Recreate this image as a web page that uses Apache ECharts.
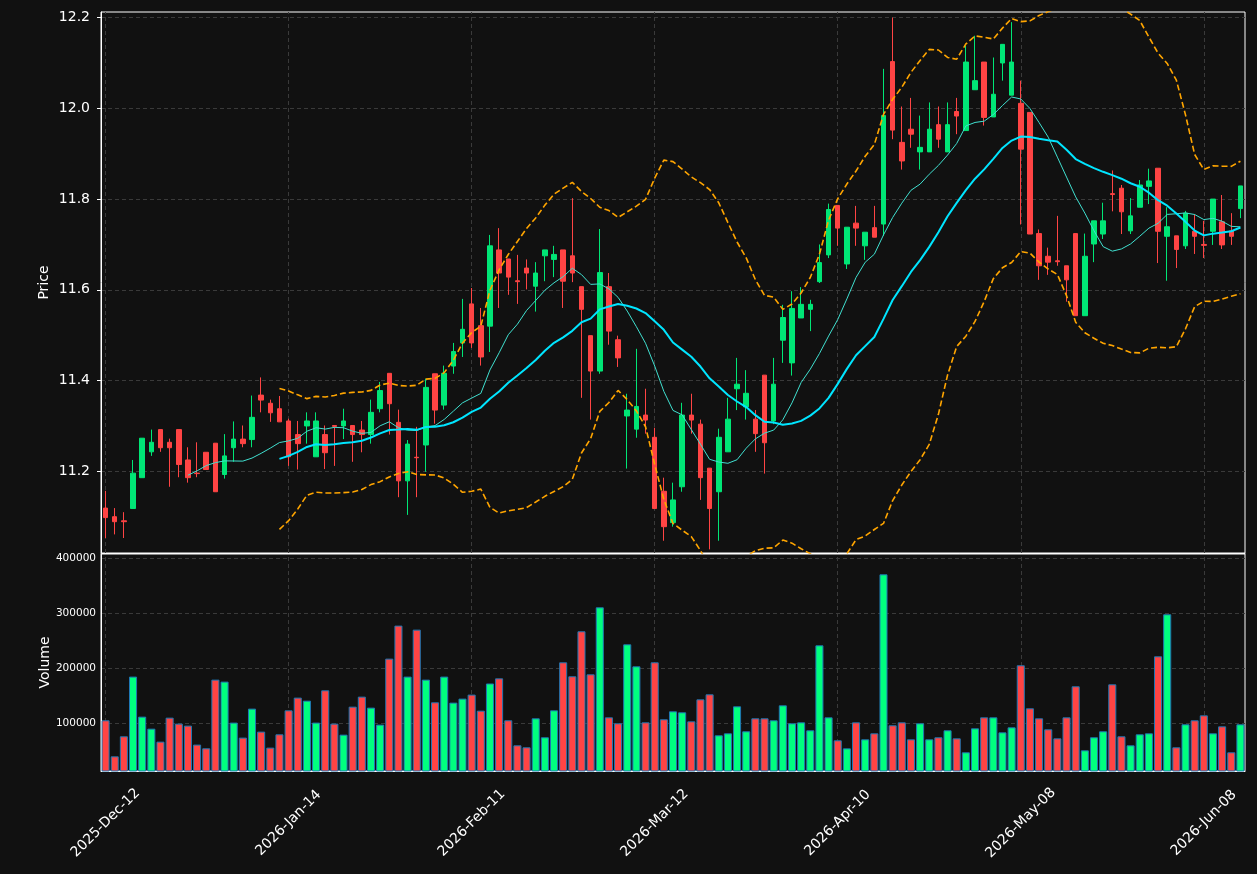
<!DOCTYPE html>
<html>
<head>
<meta charset="utf-8">
<script src="https://cdn.jsdelivr.net/npm/echarts@6/dist/echarts.min.js"></script>
<style>
html, body { margin: 0; padding: 0; background: #111111; }
#main { width: 1257px; height: 874px; }
</style>
</head>
<body>
<div id="main"></div>
<script>
// trading calendar used for the category axis
var startDate = '2025-12-12';
var holidays = ['2025-12-25', '2025-12-26', '2026-01-01', '2026-02-16', '2026-04-03', '2026-05-25'];
var monthNames = ['Jan', 'Feb', 'Mar', 'Apr', 'May', 'Jun', 'Jul', 'Aug', 'Sep', 'Oct', 'Nov', 'Dec'];

// OHLC
var opens = [
    11.119, 11.100, 11.091, 11.118, 11.186, 11.243, 11.292, 11.264, 11.292, 11.225,
    11.196, 11.242, 11.262, 11.193, 11.252, 11.271, 11.270, 11.368, 11.350, 11.338,
    11.311, 11.281, 11.300, 11.232, 11.281, 11.301, 11.300, 11.301, 11.291, 11.281,
    11.338, 11.416, 11.308, 11.179, 11.231, 11.258, 11.415, 11.346, 11.432, 11.483,
    11.569, 11.521, 11.520, 11.688, 11.668, 11.620, 11.648, 11.608, 11.675, 11.667,
    11.688, 11.675, 11.607, 11.499, 11.421, 11.607, 11.490, 11.322, 11.293, 11.324,
    11.275, 11.156, 11.087, 11.166, 11.324, 11.304, 11.207, 11.155, 11.243, 11.382,
    11.342, 11.315, 11.412, 11.311, 11.489, 11.439, 11.538, 11.557, 11.618, 11.677,
    11.786, 11.657, 11.747, 11.697, 11.737, 11.745, 12.103, 11.925, 11.954, 11.904,
    11.904, 11.964, 11.904, 11.993, 11.951, 12.041, 12.102, 11.981, 12.100, 12.029,
    12.011, 11.991, 11.724, 11.674, 11.664, 11.653, 11.724, 11.543, 11.701, 11.723,
    11.812, 11.824, 11.730, 11.782, 11.828, 11.868, 11.718, 11.719, 11.697, 11.729,
    11.700, 11.729, 11.750, 11.730, 11.779
];
var closes = [
    11.098, 11.089, 11.089, 11.196, 11.273, 11.264, 11.252, 11.252, 11.215, 11.186,
    11.195, 11.204, 11.155, 11.234, 11.271, 11.261, 11.319, 11.357, 11.329, 11.309,
    11.232, 11.261, 11.311, 11.311, 11.241, 11.299, 11.311, 11.281, 11.281, 11.330,
    11.378, 11.349, 11.179, 11.260, 11.230, 11.385, 11.335, 11.416, 11.464, 11.513,
    11.483, 11.452, 11.697, 11.637, 11.628, 11.618, 11.637, 11.637, 11.688, 11.678,
    11.619, 11.637, 11.557, 11.421, 11.638, 11.509, 11.450, 11.335, 11.343, 11.313,
    11.118, 11.078, 11.137, 11.324, 11.313, 11.186, 11.118, 11.275, 11.315, 11.392,
    11.372, 11.283, 11.263, 11.392, 11.539, 11.559, 11.568, 11.568, 11.660, 11.777,
    11.736, 11.738, 11.736, 11.727, 11.716, 11.984, 11.952, 11.884, 11.943, 11.914,
    11.954, 11.932, 11.964, 11.983, 12.102, 12.061, 11.980, 12.031, 12.141, 12.102,
    11.910, 11.723, 11.653, 11.661, 11.662, 11.622, 11.543, 11.674, 11.752, 11.752,
    11.810, 11.772, 11.763, 11.831, 11.840, 11.729, 11.739, 11.689, 11.769, 11.718,
    11.698, 11.800, 11.699, 11.718, 11.829
];
var lows = [
    11.053, 11.061, 11.053, 11.118, 11.186, 11.234, 11.243, 11.166, 11.187, 11.175,
    11.187, 11.204, 11.155, 11.184, 11.221, 11.253, 11.253, 11.330, 11.309, 11.309,
    11.212, 11.204, 11.261, 11.232, 11.205, 11.212, 11.271, 11.221, 11.242, 11.261,
    11.330, 11.281, 11.143, 11.104, 11.143, 11.199, 11.305, 11.336, 11.415, 11.452,
    11.472, 11.433, 11.463, 11.560, 11.589, 11.569, 11.601, 11.552, 11.619, 11.628,
    11.560, 11.617, 11.362, 11.314, 11.415, 11.479, 11.430, 11.206, 11.274, 11.283,
    11.118, 11.047, 11.078, 11.155, 11.283, 11.137, 11.028, 11.047, 11.243, 11.335,
    11.314, 11.243, 11.195, 11.304, 11.439, 11.411, 11.538, 11.509, 11.615, 11.670,
    11.697, 11.646, 11.697, 11.666, 11.716, 11.719, 11.932, 11.865, 11.913, 11.865,
    11.904, 11.913, 11.904, 11.943, 11.951, 12.041, 11.962, 11.981, 12.061, 12.029,
    11.744, 11.723, 11.622, 11.633, 11.653, 11.574, 11.543, 11.543, 11.661, 11.712,
    11.773, 11.723, 11.723, 11.782, 11.789, 11.659, 11.620, 11.648, 11.690, 11.679,
    11.670, 11.699, 11.690, 11.699, 11.758
];
var highs = [
    11.157, 11.119, 11.110, 11.225, 11.273, 11.292, 11.292, 11.272, 11.292, 11.253,
    11.264, 11.242, 11.262, 11.282, 11.310, 11.301, 11.367, 11.407, 11.358, 11.366,
    11.316, 11.311, 11.330, 11.330, 11.301, 11.302, 11.338, 11.301, 11.311, 11.358,
    11.397, 11.416, 11.336, 11.269, 11.298, 11.404, 11.415, 11.433, 11.483, 11.580,
    11.604, 11.560, 11.721, 11.736, 11.668, 11.677, 11.667, 11.661, 11.688, 11.697,
    11.688, 11.802, 11.607, 11.499, 11.734, 11.637, 11.499, 11.371, 11.470, 11.382,
    11.296, 11.186, 11.175, 11.351, 11.371, 11.314, 11.207, 11.294, 11.362, 11.450,
    11.423, 11.335, 11.412, 11.450, 11.567, 11.597, 11.606, 11.578, 11.700, 11.790,
    11.786, 11.738, 11.785, 11.727, 11.785, 12.087, 12.200, 12.004, 12.023, 11.984,
    12.013, 12.004, 12.013, 12.023, 12.138, 12.160, 12.102, 12.112, 12.141, 12.190,
    12.061, 11.991, 11.733, 11.693, 11.763, 11.653, 11.724, 11.724, 11.752, 11.792,
    11.863, 11.831, 11.802, 11.842, 11.867, 11.868, 11.782, 11.719, 11.774, 11.767,
    11.752, 11.800, 11.809, 11.769, 11.829
];
var volumes = [
    105500, 40000, 76400, 184900, 112100, 90300, 66700, 110300, 99400, 95800,
    61300, 54600, 179400, 175800, 101300, 74000, 126700, 84900, 55800, 80000,
    123600, 146700, 141200, 101300, 160000, 99400, 79400, 130300, 148500, 128500,
    97600, 217600, 277600, 184900, 270300, 179400, 138200, 184900, 137600, 144900,
    152200, 123000, 172400, 181800, 105500, 60000, 56400, 109100, 74600, 123600,
    210900, 185500, 267300, 189100, 310900, 110900, 100000, 243600, 203600, 101800,
    210900, 107300, 121800, 120000, 103600, 143600, 152700, 78200, 81800, 130900,
    85500, 109100, 109100, 105500, 132700, 100000, 101800, 87300, 241800, 110900,
    69100, 54500, 101800, 70900, 81800, 370900, 96400, 101800, 70900, 100000,
    70900, 74600, 87300, 72700, 47300, 90900, 110900, 110900, 83600, 92700,
    205500, 127300, 109100, 89100, 72700, 110900, 167300, 50900, 74600, 85500,
    170900, 76400, 60000, 80000, 81800, 221800, 298200, 56400, 98200, 105500,
    114500, 81800, 94500, 47300, 98200
];

var priceTicks = [11.2, 11.4, 11.6, 11.8, 12.0, 12.2];
var volumeTicks = [100000, 200000, 300000, 400000];

var UP = '#00e676';
var DOWN = '#ff4444';
var VOL_UP = '#00ff7f';
var GRID_COLOR = '#3a3a3a';
var FONT = 'DejaVu Sans';

function tradingDays(start, count, skip) {
    var out = [];
    var d = new Date(start + 'T00:00:00Z');
    while (out.length < count) {
        var iso = d.toISOString().slice(0, 10);
        var wd = d.getUTCDay();
        if (wd !== 0 && wd !== 6 && skip.indexOf(iso) < 0) {
            out.push(iso.slice(0, 4) + '-' + monthNames[d.getUTCMonth()] + '-' + iso.slice(8, 10));
        }
        d.setUTCDate(d.getUTCDate() + 1);
    }
    return out;
}

// rolling mean / std of the closes (the indicator lines)
function rollingMean(arr, n) {
    var res = [];
    for (var i = 0; i < arr.length; i++) {
        if (i < n - 1) { res.push(null); continue; }
        var s = 0;
        for (var j = i - n + 1; j <= i; j++) s += arr[j];
        res.push(s / n);
    }
    return res;
}

function rollingStd(arr, n) {
    var res = [];
    for (var i = 0; i < arr.length; i++) {
        if (i < n - 1) { res.push(null); continue; }
        var s = 0;
        for (var j = i - n + 1; j <= i; j++) s += arr[j];
        var m = s / n, v = 0;
        for (var k = i - n + 1; k <= i; k++) v += (arr[k] - m) * (arr[k] - m);
        res.push(Math.sqrt(v / (n - 1)));
    }
    return res;
}

var dates = tradingDays(startDate, closes.length, holidays);
var ma10 = rollingMean(closes, 10);
var ma20 = rollingMean(closes, 20);
var sd20 = rollingStd(closes, 20);
var upper = ma20.map(function (m, i) { return m === null ? null : m + 2 * sd20[i]; });
var lower = ma20.map(function (m, i) { return m === null ? null : m - 2 * sd20[i]; });

var candles = closes.map(function (c, i) { return [opens[i], c, lows[i], highs[i]]; });
var volBars = volumes.map(function (v, i) {
    return {
        value: v,
        itemStyle: { color: closes[i] >= opens[i] ? VOL_UP : DOWN }
    };
});

// vertical grid lines at the labelled dates, kept behind the marks
var gridDates = dates.filter(function (d, i) { return i % 20 === 0; });
function vGridSeries(axisIdx) {
    return {
        type: 'line',
        xAxisIndex: axisIdx,
        yAxisIndex: axisIdx,
        z: 0,
        data: [],
        silent: true,
        markLine: {
            z: 0,
            silent: true,
            symbol: 'none',
            animation: false,
            label: { show: false },
            lineStyle: { color: GRID_COLOR, type: [4, 3], width: 1 },
            data: gridDates.map(function (d) { return { xAxis: d }; })
        }
    };
}

var myChart = echarts.init(document.getElementById('main'));

var option = {
    backgroundColor: '#111111',
    animation: false,
    grid: [{
        left: 101, top: 12, width: 1144, height: 541,
        show: true, borderColor: '#ffffff', borderWidth: 1, backgroundColor: 'transparent'
    }, {
        left: 101, top: 554, width: 1144, height: 217,
        show: true, borderColor: '#ffffff', borderWidth: 1, backgroundColor: 'transparent'
    }],
    xAxis: [{
        type: 'category',
        gridIndex: 0,
        data: dates,
        axisLine: { lineStyle: { color: '#ffffff' } },
        axisTick: { show: false },
        axisLabel: { show: false },
        splitLine: { show: false }
    }, {
        type: 'category',
        gridIndex: 1,
        data: dates,
        axisLine: { lineStyle: { color: '#ffffff' } },
        axisTick: {
            alignWithLabel: true,
            interval: 19,
            length: 4,
            lineStyle: { color: '#ffffff' }
        },
        axisLabel: {
            interval: 19,
            rotate: 45,
            align: 'center',
            verticalAlign: 'middle',
            margin: 52,
            color: '#ffffff',
            fontSize: 14,
            fontFamily: FONT
        },
        splitLine: { show: false }
    }],
    yAxis: [{
        type: 'value',
        gridIndex: 0,
        min: 11.020,
        max: 12.2123,
        name: 'Price',
        nameLocation: 'middle',
        nameGap: 50,
        nameMoveOverlap: false,
        nameTextStyle: { color: '#ffffff', fontSize: 14, fontFamily: FONT },
        axisLine: { show: true, lineStyle: { color: '#ffffff' } },
        axisTick: { show: true, length: 4, customValues: priceTicks, lineStyle: { color: '#ffffff' } },
        axisLabel: {
            customValues: priceTicks,
            color: '#ffffff',
            fontSize: 14,
            fontFamily: FONT,
            margin: 11,
            formatter: function (v) { return v.toFixed(1); }
        },
        splitLine: { show: true, lineStyle: { color: GRID_COLOR, type: [4, 3] } }
    }, {
        type: 'value',
        gridIndex: 1,
        min: 13300,
        max: 407800,
        name: 'Volume',
        nameLocation: 'middle',
        nameGap: 49,
        nameMoveOverlap: false,
        nameTextStyle: { color: '#ffffff', fontSize: 14, fontFamily: FONT },
        axisLine: { show: true, lineStyle: { color: '#ffffff' } },
        axisTick: { show: false, customValues: volumeTicks },
        axisLabel: {
            customValues: volumeTicks,
            color: '#ffffff',
            fontSize: 10.5,
            fontFamily: FONT,
            margin: 5,
            formatter: function (v) { return String(v); }
        },
        splitLine: { show: true, lineStyle: { color: GRID_COLOR, type: [4, 3] } }
    }],
    series: [vGridSeries(0), vGridSeries(1), {
        name: 'Price',
        type: 'candlestick',
        xAxisIndex: 0,
        yAxisIndex: 0,
        barWidth: 5,
        data: candles,
        itemStyle: {
            color: UP,
            color0: DOWN,
            borderColor: UP,
            borderColor0: DOWN,
            borderWidth: 1
        }
    }, {
        name: 'MA10',
        type: 'line',
        xAxisIndex: 0,
        yAxisIndex: 0,
        data: ma10,
        showSymbol: false,
        lineStyle: { color: '#40e0d0', width: 1 }
    }, {
        name: 'MA20',
        type: 'line',
        xAxisIndex: 0,
        yAxisIndex: 0,
        data: ma20,
        showSymbol: false,
        lineStyle: { color: '#00e5ff', width: 2 }
    }, {
        name: 'Upper',
        type: 'line',
        xAxisIndex: 0,
        yAxisIndex: 0,
        data: upper,
        showSymbol: false,
        lineStyle: { color: '#ffa500', width: 1.6, type: [6, 3] }
    }, {
        name: 'Lower',
        type: 'line',
        xAxisIndex: 0,
        yAxisIndex: 0,
        data: lower,
        showSymbol: false,
        lineStyle: { color: '#ffa500', width: 1.6, type: [6, 3] }
    }, {
        name: 'Volume',
        type: 'bar',
        xAxisIndex: 1,
        yAxisIndex: 1,
        barCategoryGap: '12%',
        data: volBars,
        itemStyle: { borderColor: '#1f77b4', borderWidth: 1 }
    }]
};

myChart.setOption(option);
</script>
</body>
</html>
